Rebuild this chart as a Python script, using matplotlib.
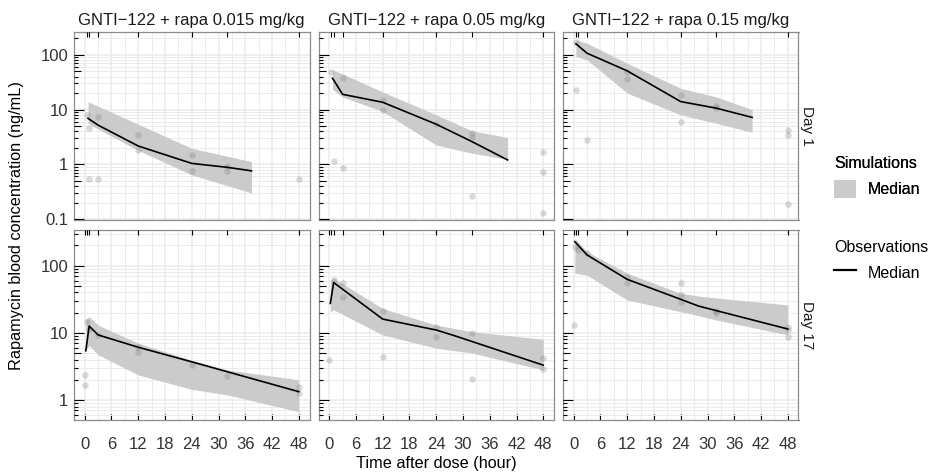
import matplotlib
matplotlib.use('Agg')
import matplotlib.pyplot as plt
from matplotlib.patches import Patch
from matplotlib.lines import Line2D
from matplotlib.ticker import FixedLocator, NullFormatter

plt.rcParams['font.family'] = ['Liberation Sans', 'DejaVu Sans']

# panel labels
doses = ['GNTI\u2212122 + rapa 0.015 mg/kg', 'GNTI\u2212122 + rapa 0.05 mg/kg',
         'GNTI\u2212122 + rapa 0.15 mg/kg']
days = ['Day 1', 'Day 17']
x_ticks = [0, 6, 12, 18, 24, 30, 36, 42, 48]
sample_times_d1 = [0.5, 1, 3, 12, 24, 32, 48]
sample_times_d17 = [0, 0.5, 1, 3, 12, 24, 32, 48]

# Day 1, 0.015 mg/kg
obs_t_d1_a = [0.5, 1, 3, 1, 3, 12, 12, 24, 24, 32, 32, 48]
obs_c_d1_a = [7.9, 4.7, 7.4, 0.55, 0.53, 3.4, 1.83, 1.48, 0.76, 0.93, 0.76, 0.55]
med_t_d1_a = [0.75, 3, 12, 24, 32, 37.4]
med_c_d1_a = [6.9, 5.2, 2.16, 1.04, 0.88, 0.76]
sim_t_d1_a = [0.75, 3, 12, 24, 37.4]
sim_lo_d1_a = [5.6, 4.4, 1.8, 0.64, 0.30]
sim_hi_d1_a = [13.9, 11.5, 5.4, 1.96, 1.12]

# Day 1, 0.05 mg/kg
obs_t_d1_b = [0.5, 3, 12, 12, 24, 32, 32, 1, 3, 32, 48, 48, 48]
obs_c_d1_b = [49, 37, 15, 10, 5.4, 3.7, 3.2, 1.16, 0.85, 0.26, 1.66, 0.73, 0.13]
med_t_d1_b = [0.75, 3, 12, 24, 32, 40]
med_c_d1_b = [37.3, 19, 13.6, 5.4, 2.6, 1.2]
sim_t_d1_b = [0.75, 3, 12, 24, 32, 40]
sim_lo_d1_b = [23.5, 17, 9.2, 2.25, 1.6, 1.23]
sim_hi_d1_b = [53, 45, 21, 8, 4.1, 3.1]

# Day 1, 0.15 mg/kg
obs_t_d1_c = [0.5, 0.5, 3, 12, 12, 24, 24, 32, 32, 48, 48, 48]
obs_c_d1_c = [174, 23, 2.8, 49, 36, 18.5, 6, 11.6, 10.5, 4.2, 3.5, 0.19]
med_t_d1_c = [0.5, 3, 12, 24, 32, 40]
med_c_d1_c = [159, 107, 51, 14, 10.6, 7.2]
sim_t_d1_c = [0.5, 3, 12, 24, 32, 40]
sim_lo_d1_c = [93, 81, 20, 8, 5.6, 3.85]
sim_hi_d1_c = [187, 163, 70, 24.5, 17, 10]

# Day 17, 0.015 mg/kg
obs_t_d17_a = [0, 0, 0.5, 1, 3, 12, 12, 24, 32, 48, 48]
obs_c_d17_a = [2.36, 1.67, 14.6, 11.4, 9.3, 6.2, 5.2, 3.3, 2.3, 1.58, 1.26]
med_t_d17_a = [0.25, 1, 3, 12, 24, 48]
med_c_d17_a = [5.4, 12.6, 9.3, 6.1, 3.7, 1.33]
sim_t_d17_a = [0.25, 1, 3, 12, 24, 32, 48]
sim_lo_d17_a = [5.5, 6.5, 4.7, 2.36, 1.44, 1.19, 0.67]
sim_hi_d17_a = [16, 17.4, 13, 7.0, 3.9, 2.8, 2.0]

# Day 17, 0.05 mg/kg
obs_t_d17_b = [0, 1, 3, 3, 12, 12, 24, 24, 32, 32, 48, 48]
obs_c_d17_b = [3.9, 61, 55, 34, 21, 4.4, 12.3, 8.8, 9.8, 2.05, 4.26, 2.9]
med_t_d17_b = [0.25, 1, 12, 24, 28, 48]
med_c_d17_b = [27.4, 56, 16, 11, 9.1, 3.3]
sim_t_d17_b = [0.25, 1, 12, 24, 32, 48]
sim_lo_d17_b = [20.6, 22, 9.3, 5.9, 5.0, 2.8]
sim_hi_d17_b = [61, 65, 23, 13, 10.4, 8.0]

# Day 17, 0.15 mg/kg
obs_t_d17_c = [0.25, 1, 0, 3, 12, 12, 24, 24, 24, 32, 32, 48, 48, 48]
obs_c_d17_c = [191, 171, 13, 152, 68, 55, 56, 36.5, 28.5, 21.3, 19.5, 12.1, 11, 8.8]
med_t_d17_c = [0.25, 3, 12, 24, 28, 48]
med_c_d17_c = [227, 144, 62.5, 31.5, 25, 11.4]
sim_t_d17_c = [0.25, 3, 12, 24, 28, 32, 48]
sim_lo_d17_c = [77, 72, 30.8, 20.6, 18, 15.5, 9.3]
sim_hi_d17_c = [255, 161, 77, 38.7, 35.3, 33, 26]

panels = [
    [(obs_t_d1_a, obs_c_d1_a, med_t_d1_a, med_c_d1_a, sim_t_d1_a, sim_lo_d1_a, sim_hi_d1_a),
     (obs_t_d1_b, obs_c_d1_b, med_t_d1_b, med_c_d1_b, sim_t_d1_b, sim_lo_d1_b, sim_hi_d1_b),
     (obs_t_d1_c, obs_c_d1_c, med_t_d1_c, med_c_d1_c, sim_t_d1_c, sim_lo_d1_c, sim_hi_d1_c)],
    [(obs_t_d17_a, obs_c_d17_a, med_t_d17_a, med_c_d17_a, sim_t_d17_a, sim_lo_d17_a, sim_hi_d17_a),
     (obs_t_d17_b, obs_c_d17_b, med_t_d17_b, med_c_d17_b, sim_t_d17_b, sim_lo_d17_b, sim_hi_d17_b),
     (obs_t_d17_c, obs_c_d17_c, med_t_d17_c, med_c_d17_c, sim_t_d17_c, sim_lo_d17_c, sim_hi_d17_c)],
]
sample_times = [sample_times_d1, sample_times_d17]
y_limits = [(0.096, 265), (0.504, 339)]
y_labels = [[0.1, 1, 10, 100], [1, 10, 100]]

W, H = 929, 473
fig = plt.figure(figsize=(W / 100, H / 100), dpi=100)

col_left = [74, 318.5, 563]
col_w = 235.5
row_top = [31.7, 230]
row_h = [188.3, 190]

band_col = '#cbcbcb'
grid_col = '#ebebeb'
text_col = '#1a1a1a'
tick_col = '#333333'

for r in range(2):
    for c in range(3):
        ax = fig.add_axes([col_left[c] / W, 1 - (row_top[r] + row_h[r]) / H,
                           col_w / W, row_h[r] / H])
        obs_t, obs_c, med_t, med_c, sim_t, sim_lo, sim_hi = panels[r][c]

        ax.set_yscale('log')
        ax.set_xlim(-2.4, 50.4)
        ax.set_ylim(*y_limits[r])

        # grid
        ax.xaxis.set_major_locator(FixedLocator(x_ticks))
        ax.xaxis.set_minor_locator(FixedLocator([t + 3 for t in x_ticks[:-1]]))
        ax.yaxis.set_major_locator(FixedLocator(y_labels[r]))
        minor_y = [k * 10.0 ** e for e in range(-2, 3) for k in range(2, 10)]
        ax.yaxis.set_minor_locator(FixedLocator(minor_y))
        ax.yaxis.set_minor_formatter(NullFormatter())
        ax.grid(which='major', color=grid_col, lw=1.1, zorder=0)
        ax.grid(which='minor', color=grid_col, lw=0.7, zorder=0)
        ax.set_axisbelow(True)

        ax.fill_between(sim_t, sim_lo, sim_hi, color=band_col, lw=0, zorder=2)
        ax.scatter(obs_t, obs_c, s=22, color='#7a7a7a', alpha=0.28, lw=0, zorder=3)
        ax.plot(med_t, med_c, color='black', lw=1.2, zorder=4)

        # log ticks on the left, inside
        ylo, yhi = y_limits[r]
        for e in range(-2, 3):
            for k in range(1, 10):
                v = k * 10.0 ** e
                if ylo <= v <= yhi:
                    L = 10 if k == 1 else (7 if k == 5 else 4)
                    ax.hlines(v, 0, L / col_w, transform=ax.get_yaxis_transform(),
                              color='black', lw=0.8, zorder=5)
        # sampling times on top, inside
        ax.vlines(sample_times[r], 1 - 5 / row_h[r], 1, transform=ax.get_xaxis_transform(),
                  color='black', lw=0.8, zorder=5)

        for s in ax.spines.values():
            s.set_color('#8c8c8c')
            s.set_linewidth(0.9)

        ax.tick_params(axis='y', which='both', length=0, pad=4, labelsize=12,
                       labelcolor=tick_col)
        ax.tick_params(axis='x', which='minor', length=0)
        if r == 1:
            ax.tick_params(axis='x', which='major', direction='in', length=4, width=0.8,
                           pad=12.5, labelsize=12, labelcolor=tick_col)
        else:
            ax.tick_params(axis='x', which='major', length=0, labelbottom=False)
        if c == 0:
            ax.set_yticklabels(['%g' % v for v in y_labels[r]])
        else:
            ax.tick_params(axis='y', labelleft=False)

        if r == 0:
            ax.set_title(doses[c], fontsize=12, pad=5, color=text_col)
        if c == 2:
            ax.text(1 + 8.5 / col_w, 0.5, days[r], transform=ax.transAxes, rotation=270,
                    ha='center', va='center', fontsize=11, color=text_col)

fig.text(17 / W, 1 - 226 / H, 'Rapamycin blood concentration (ng/mL)', rotation=90,
         ha='center', va='center', fontsize=11.7, color='black')
fig.text(436 / W, 1 - 463.5 / H, 'Time after dose (hour)', ha='center', va='center',
         fontsize=11.7, color='black')

leg1 = fig.legend(handles=[Patch(facecolor=band_col, edgecolor='none')], labels=['Median'],
                  title='Simulations', loc='upper left', bbox_to_anchor=(834 / W, 1 - 156 / H),
                  frameon=False, fontsize=11.5, title_fontsize=11.5, alignment='left',
                  handlelength=1.4, handleheight=1.4, handletextpad=0.7, borderpad=0,
                  borderaxespad=0, labelspacing=0.55)
fig.add_artist(leg1)
fig.legend(handles=[Line2D([], [], color='black', lw=1.6)], labels=['Median'],
           title='Observations', loc='upper left', bbox_to_anchor=(834 / W, 1 - 240 / H),
           frameon=False, fontsize=11.5, title_fontsize=11.5, alignment='left',
           handlelength=1.4, handleheight=1.4, handletextpad=0.7, borderpad=0,
           borderaxespad=0, labelspacing=0.5)

fig.savefig('out.png', dpi=100)
